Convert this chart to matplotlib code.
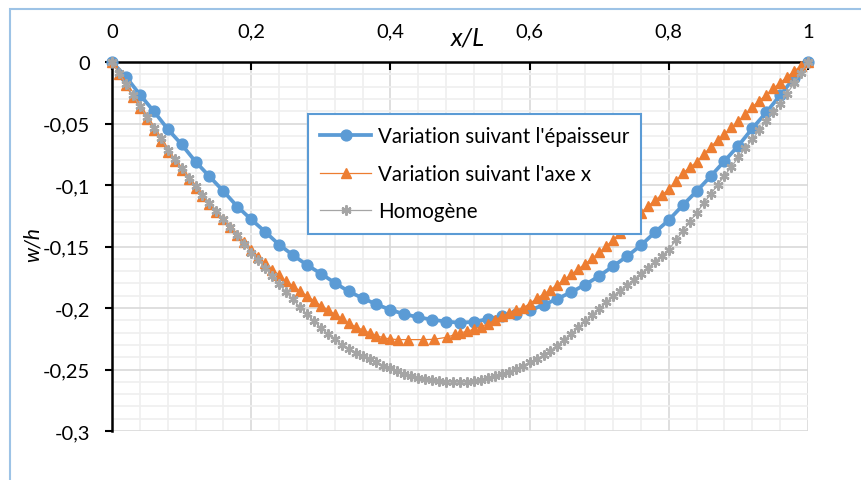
import matplotlib
matplotlib.use("Agg")
import matplotlib.pyplot as plt
from matplotlib.patches import Rectangle
from matplotlib.ticker import MultipleLocator

plt.rcParams["font.family"] = ["Lato", "DejaVu Sans"]

# --- data ---
x_epaisseur = [0.00, 0.02, 0.04, 0.06, 0.08, 0.10, 0.12, 0.14, 0.16, 0.18,
               0.20, 0.22, 0.24, 0.26, 0.28, 0.30, 0.32, 0.34, 0.36, 0.38,
               0.40, 0.42, 0.44, 0.46, 0.48, 0.50, 0.52, 0.54, 0.56, 0.58,
               0.60, 0.62, 0.64, 0.66, 0.68, 0.70, 0.72, 0.74, 0.76, 0.78,
               0.80, 0.82, 0.84, 0.86, 0.88, 0.90, 0.92, 0.94, 0.96, 0.98, 1.00]
w_epaisseur = [0.0, -0.012, -0.0265, -0.040, -0.0545, -0.067, -0.081, -0.093, -0.105, -0.1175,
               -0.128, -0.138, -0.1485, -0.157, -0.165, -0.172, -0.1795, -0.1865, -0.192, -0.197,
               -0.2015, -0.205, -0.2075, -0.2095, -0.211, -0.212, -0.2112, -0.209, -0.2065, -0.2045,
               -0.202, -0.1975, -0.1925, -0.187, -0.181, -0.174, -0.166, -0.158, -0.149, -0.1385,
               -0.1285, -0.1165, -0.105, -0.093, -0.0805, -0.068, -0.054, -0.041, -0.027, -0.013, 0.0]

x_axe = [0.00, 0.01, 0.02, 0.03, 0.04, 0.05, 0.06, 0.07, 0.08, 0.09,
         0.10, 0.11, 0.12, 0.13, 0.14, 0.15, 0.16, 0.17, 0.18, 0.19,
         0.20, 0.21, 0.22, 0.23, 0.24, 0.25, 0.26, 0.27, 0.28, 0.29,
         0.30, 0.31, 0.32, 0.33, 0.34, 0.35, 0.36, 0.37, 0.38, 0.39,
         0.40, 0.411, 0.426, 0.447, 0.462, 0.481, 0.493, 0.50, 0.51, 0.52,
         0.53, 0.54, 0.55, 0.56, 0.57, 0.58, 0.59, 0.60, 0.61, 0.62,
         0.63, 0.64, 0.65, 0.66, 0.67, 0.68, 0.69, 0.70, 0.71, 0.72,
         0.73, 0.74, 0.75, 0.76, 0.77, 0.78, 0.79, 0.80, 0.81, 0.82,
         0.83, 0.84, 0.85, 0.86, 0.87, 0.88, 0.89, 0.90, 0.91, 0.92,
         0.93, 0.94, 0.95, 0.96, 0.97, 0.98, 0.99, 1.00]
w_axe = [0.0, -0.0095, -0.019, -0.0285, -0.0375, -0.0465, -0.0553, -0.064, -0.0728, -0.0808,
         -0.0882, -0.0955, -0.1025, -0.1092, -0.1156, -0.1218, -0.128, -0.1342, -0.1403, -0.1465,
         -0.1525, -0.1585, -0.1638, -0.1688, -0.1735, -0.178, -0.182, -0.1862, -0.1902, -0.194,
         -0.198, -0.2015, -0.205, -0.2085, -0.2122, -0.2152, -0.2178, -0.2202, -0.2225, -0.2242,
         -0.2252, -0.2257, -0.2257, -0.2257, -0.2255, -0.2238, -0.2215, -0.2203, -0.219, -0.2172,
         -0.2152, -0.2128, -0.2098, -0.2068, -0.2042, -0.2015, -0.200, -0.1965, -0.1922, -0.1888,
         -0.185, -0.181, -0.1768, -0.1725, -0.1683, -0.164, -0.1595, -0.1548, -0.1498, -0.1445,
         -0.139, -0.1335, -0.128, -0.1225, -0.1172, -0.1125, -0.108, -0.1035, -0.0968, -0.0905,
         -0.0855, -0.0815, -0.075, -0.0692, -0.0635, -0.0585, -0.0532, -0.048, -0.0422, -0.0365,
         -0.0315, -0.0265, -0.0215, -0.0168, -0.0122, -0.0075, -0.003, 0.0]

x_homo = [0.00, 0.01, 0.02, 0.03, 0.04, 0.05, 0.06, 0.07, 0.08, 0.09,
          0.10, 0.11, 0.12, 0.13, 0.14, 0.15, 0.16, 0.17, 0.18, 0.19,
          0.20, 0.21, 0.22, 0.23, 0.24, 0.25, 0.26, 0.27, 0.28, 0.29,
          0.30, 0.31, 0.32, 0.33, 0.34, 0.35, 0.36, 0.37, 0.38, 0.39,
          0.40, 0.41, 0.42, 0.43, 0.44, 0.45, 0.46, 0.47, 0.48, 0.49,
          0.50, 0.51, 0.52, 0.53, 0.54, 0.55, 0.56, 0.57, 0.58, 0.59,
          0.60, 0.61, 0.62, 0.63, 0.64, 0.65, 0.66, 0.67, 0.68, 0.69,
          0.70, 0.71, 0.72, 0.73, 0.74, 0.75, 0.76, 0.77, 0.78, 0.79,
          0.80, 0.81, 0.82, 0.83, 0.84, 0.85, 0.86, 0.87, 0.88, 0.89,
          0.90, 0.91, 0.92, 0.93, 0.94, 0.95, 0.96, 0.97, 0.98, 0.99, 1.00]
w_homo = [0.0, -0.009, -0.018, -0.027, -0.0357, -0.0445, -0.0533, -0.062, -0.0712, -0.079,
          -0.0865, -0.094, -0.1012, -0.108, -0.1145, -0.121, -0.1275, -0.134, -0.1405, -0.148,
          -0.155, -0.161, -0.1675, -0.174, -0.1805, -0.187, -0.193, -0.1993, -0.205, -0.2105,
          -0.2162, -0.221, -0.2255, -0.2298, -0.2335, -0.2365, -0.2392, -0.2417, -0.2443, -0.2468,
          -0.249, -0.2513, -0.2535, -0.2553, -0.2568, -0.258, -0.2588, -0.2594, -0.2598, -0.26,
          -0.2601, -0.2598, -0.2592, -0.2582, -0.257, -0.2556, -0.2538, -0.2518, -0.2496, -0.247,
          -0.2443, -0.2415, -0.2383, -0.2348, -0.2305, -0.2258, -0.2208, -0.2158, -0.2108, -0.2058,
          -0.2005, -0.1955, -0.1905, -0.186, -0.1815, -0.177, -0.172, -0.1675, -0.1625, -0.158,
          -0.1525, -0.145, -0.1375, -0.13, -0.1225, -0.115, -0.1075, -0.1, -0.0925, -0.085,
          -0.0775, -0.07, -0.0628, -0.0555, -0.0483, -0.041, -0.034, -0.0257, -0.0172, -0.0086, 0.0]

x_ticks = [0, 0.2, 0.4, 0.6, 0.8, 1.0]
x_labels = ["0", "0,2", "0,4", "0,6", "0,8", "1"]
y_ticks = [0, -0.05, -0.1, -0.15, -0.2, -0.25, -0.3]
y_labels = ["0", "-0,05", "-0,1", "-0,15", "-0,2", "-0,25", "-0,3"]

W, H = 861, 481
fig = plt.figure(figsize=(W / 100, H / 100), dpi=100)
ax = fig.add_axes([112 / W, 1 - 432 / H, 696 / W, 369 / H])

ax.plot(x_epaisseur, w_epaisseur, color="#5B9BD5", lw=2.7, marker="o", ms=7.8,
        label="Variation suivant l'épaisseur", clip_on=False, zorder=3)
ax.plot(x_axe, w_axe, color="#ED7D31", lw=0.9, marker="^", ms=7.2,
        label="Variation suivant l'axe x", clip_on=False, zorder=4)
ax.plot(x_homo, w_homo, color="#A5A5A5", lw=0.9, marker=(6, 2, 0), ms=7.2, mew=1.7,
        label="Homogène", clip_on=False, zorder=5)

ax.set_xlim(0, 1)
ax.set_ylim(-0.3, 0)
ax.set_xticks(x_ticks, x_labels)
ax.set_yticks(y_ticks, y_labels)
ax.xaxis.set_minor_locator(MultipleLocator(0.04))
ax.yaxis.set_minor_locator(MultipleLocator(0.01))
ax.xaxis.tick_top()
ax.tick_params(axis="x", which="major", direction="in", length=6, width=1.5,
               labelsize=14.5, pad=16, colors="black")
ax.tick_params(axis="y", which="major", direction="out", length=5, width=1.5,
               labelsize=14.5, pad=11)
ax.tick_params(which="minor", length=0)

ax.grid(which="minor", color="#EFEFEF", lw=1.2)
ax.grid(which="major", color="#D9D9D9", lw=1.2)
ax.set_axisbelow(True)
for side in ["bottom", "right"]:
    ax.spines[side].set_visible(False)
ax.spines["top"].set_linewidth(1.8)
ax.spines["left"].set_linewidth(1.8)

fig.text(468 / W, 1 - 38 / H, "x/L", fontsize=18, style="italic", ha="center", va="center")
fig.text(33 / W, 1 - 245 / H, "w/h", fontsize=15, style="italic", rotation=90,
         ha="center", va="center")

leg = ax.legend(loc="upper left", bbox_to_anchor=(308 / W, 1 - 115 / H),
                bbox_transform=fig.transFigure, fontsize=14.8, frameon=True, fancybox=False,
                borderaxespad=0, borderpad=0.6, handlelength=2.45, handletextpad=0.35,
                labelspacing=0.85)
leg.get_frame().set_edgecolor("#5B9BD5")
leg.get_frame().set_linewidth(1.5)
leg.get_frame().set_alpha(1)

# outer chart frame (partly cut off at right/bottom)
fig.patches.append(Rectangle((10 / W, -0.5), 2, 0.5 + 1 - 10 / H, transform=fig.transFigure,
                             fill=False, edgecolor="#9DC3E6", lw=1.5))

fig.savefig("out.png", dpi=100)
